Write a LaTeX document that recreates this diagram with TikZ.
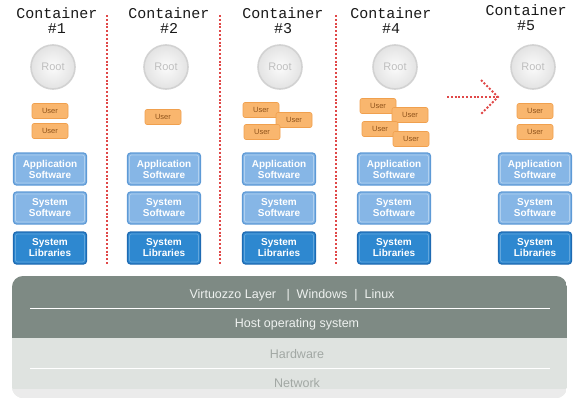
\documentclass[tikz,border=0pt]{standalone}
\usepackage{fontspec}
\setmainfont{Liberation Sans}
\newfontfamily\monofam{Liberation Mono}
\definecolor{orfill}{HTML}{F9B66E}
\definecolor{orline}{HTML}{F0A04E}
\definecolor{ortext}{HTML}{8E521A}
\definecolor{bluefill}{HTML}{86B6E6}
\definecolor{blueline}{HTML}{5E9AD6}
\definecolor{libfill}{HTML}{2E88D0}
\definecolor{libline}{HTML}{1E6AB2}
\definecolor{darkgr}{HTML}{7E8A84}
\definecolor{lightgr}{HTML}{DFE3E0}
\definecolor{darktext}{HTML}{EEF1EF}
\definecolor{lighttext}{HTML}{A2A8A4}
\definecolor{reddot}{HTML}{E04848}
\begin{document}
\begin{tikzpicture}[x=1pt,y=-1pt,
  title/.style={font=\monofam\fontsize{15}{15}\selectfont, align=center, text=black!90, inner sep=0pt},
  rootnode/.style={circle, minimum size=44pt, inner sep=0pt, inner color=gray!3, outer color=gray!22, draw=gray!35, line width=1.6pt, text=gray!50, font=\fontsize{11}{11}\selectfont},
  userbox/.style={rectangle, rounded corners=2pt, minimum width=36pt, minimum height=15pt, inner sep=0pt, fill=orfill, draw=orline, line width=0.6pt, text=ortext, font=\fontsize{7.5}{7.5}\selectfont},
  rim/.style={path picture={\draw[#1, line width=0.7pt, rounded corners=2pt]
      ([shift={(2pt,-2pt)}]path picture bounding box.north west) rectangle
      ([shift={(-2pt,2pt)}]path picture bounding box.south east);}},
  bluebox/.style={rectangle, rounded corners=3pt, minimum width=73pt, minimum height=32pt, inner sep=0pt, fill=bluefill, draw=blueline, line width=1.2pt, text=white, font=\bfseries\fontsize{10}{11}\selectfont, align=center, rim=white!35!bluefill},
  libbox/.style={bluebox, fill=libfill, draw=libline, rim=white!25!libfill},
  reddots/.style={draw=reddot, line width=2pt, dash pattern=on 2pt off 1.8pt},
  layertext/.style={font=\fontsize{12.5}{12.5}\selectfont, inner sep=0pt}
]
\useasboundingbox (0,0) rectangle (575,399);

% titles
\node[title] (t1) at (57,21) {Container\\\#1};
\node[title] (t2) at (169,21) {Container\\\#2};
\node[title] (t3) at (283,21) {Container\\\#3};
\node[title] (t4) at (391,21) {Container\\\#4};
\node[title] (t5) at (526,18) {Container\\\#5};

% separators
\coordinate (s1a) at (107,15); \coordinate (s1b) at (107,265);
\coordinate (s2a) at (220,15); \coordinate (s2b) at (220,265);
\coordinate (s3a) at (336,15); \coordinate (s3b) at (336,265);
\draw[reddots] (s1a) -- (s1b);
\draw[reddots] (s2a) -- (s2b);
\draw[reddots] (s3a) -- (s3b);

% roots
\node[rootnode] (r1) at (53,67) {Root};
\node[rootnode] (r2) at (166,67) {Root};
\node[rootnode] (r3) at (280,67) {Root};
\node[rootnode] (r4) at (395,67) {Root};
\node[rootnode] (r5) at (533,67) {Root};

% users
\node[userbox] (u1a) at (50,111) {User};
\node[userbox] (u1b) at (50,131) {User};
\node[userbox] (u2a) at (163,117) {User};
\node[userbox] (u3a) at (261,110) {User};
\node[userbox] (u3b) at (294,120) {User};
\node[userbox] (u3c) at (262,132) {User};
\node[userbox] (u4a) at (378,106) {User};
\node[userbox] (u4b) at (410,115) {User};
\node[userbox] (u4c) at (380,129) {User};
\node[userbox] (u4d) at (411,139) {User};
\node[userbox] (u5a) at (535,111) {User};
\node[userbox] (u5b) at (535,132) {User};

% arrow
\coordinate (a0) at (447,97);
\coordinate (a1) at (498,97);
\coordinate (a2) at (481,80);
\coordinate (a3) at (481,114);
\draw[reddots] (a0) -- (a1);
\draw[reddots] (a2) -- (a1) -- (a3);

% software stacks
\foreach \n/\x in {1/50,2/164,3/279,4/394,5/535}{
  \node[bluebox] (app\n) at (\x,169) {Application\\Software};
  \node[bluebox] (sys\n) at (\x,208) {System\\Software};
  \node[libbox] (lib\n) at (\x,248) {System\\Libraries};
}

% bottom layers
\begin{scope}
  \clip[rounded corners=11pt] (12,276) rectangle (567,398);
  \fill[lightgr] (12,276) rectangle (567,398);
  \fill[black!8] (12,389) rectangle (567,398);
  \fill[darkgr] (12,276) rectangle (567,338);
\end{scope}
\coordinate (l1a) at (30,308); \coordinate (l1b) at (550,308);
\coordinate (l2a) at (30,368); \coordinate (l2b) at (550,368);
\draw[white, line width=1pt] (l1a) -- (l1b);
\draw[white, line width=1pt] (l2a) -- (l2b);
\node[layertext, text=darktext] (virt) at (292,295) {Virtuozzo Layer \ \ | \ Windows \ | \ Linux};
\node[layertext, text=darktext] (host) at (297,324) {Host operating system};
\node[layertext, text=lighttext] (hw) at (297,354) {Hardware};
\node[layertext, text=lighttext] (net) at (297,383) {Network};
\end{tikzpicture}
\end{document}
